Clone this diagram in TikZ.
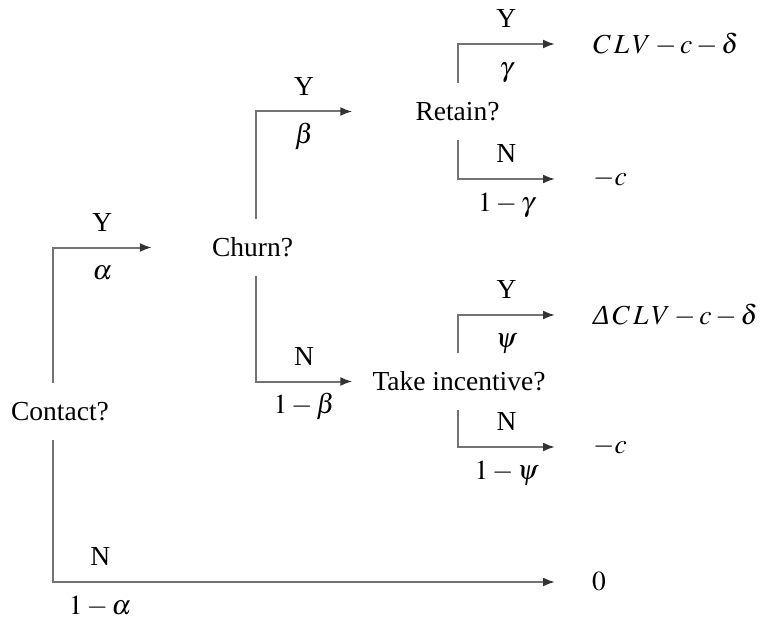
\documentclass[tikz,border=0pt]{standalone}
\usepackage{mathptmx}
\usepackage[no-math]{fontspec}
\setmainfont{Liberation Serif}
\usetikzlibrary{arrows.meta}

\tikzset{
    branch/.style={draw=black!55, line width=2pt, -{Latex[length=12pt, width=9pt, color=black!80]}},
    decision/.style={inner xsep=9pt, inner ysep=19pt},
    outcome/.style={anchor=west, inner sep=0pt},
    ylabel/.style={above=12pt},
    plabel/.style={below, text height=28pt}
}

\begin{document}
\begin{tikzpicture}[x=1pt, y=-1pt, font=\fontsize{27.5}{33}\selectfont]
    \useasboundingbox (0,0) rectangle (766,623);

    % Decision nodes
    \node [decision] (contact) at (60, 411.5) {Contact?};
    \node [decision] (churn) at (252.5, 247.5) {Churn?};
    \node [decision] (retain) at (457.5, 111.5) {Retain?};
    \node [decision] (take) at (459, 381.5) {Take incentive?};

    % Outcomes
    \node [outcome] (clv) at (593, 44) {$C\,L\,V - c - \delta$};
    \node [outcome] (lossA) at (593, 179) {$-c$};
    \node [outcome] (dclv) at (593, 315) {$\textit{Δ}\,C\,L\,V - c - \delta$};
    \node [outcome] (lossB) at (593, 447) {$-c$};
    \node [outcome] (zero) at (592, 582) {$0$};

    % Arrow ends
    \coordinate (toChurn) at ([xshift=-51pt]churn.west);
    \coordinate (toRetain) at ([xshift=-54pt]retain.west);
    \coordinate (toTake) at ([xshift=-11pt]take.west);
    \coordinate (toClv) at ([xshift=-38pt]clv.west);
    \coordinate (toLossA) at ([xshift=-38pt]lossA.west);
    \coordinate (toDclv) at ([xshift=-38pt]dclv.west);
    \coordinate (toLossB) at ([xshift=-38pt]lossB.west);
    \coordinate (toZero) at ([xshift=-37pt]zero.west);

    % Contact branches
    \draw [branch] ([xshift=-7pt]contact.north) |- (toChurn)
        node[pos=0.75, ylabel] {Y} node[pos=0.75, plabel] {$\alpha$};
    \draw [branch] ([xshift=-7pt]contact.south) |- (toZero)
        node[pos=0.547, ylabel] {N} node[pos=0.547, plabel] {$1-\alpha$};

    % Churn branches
    \draw [branch] ([xshift=3.5pt]churn.north) |- (toRetain)
        node[pos=0.75, ylabel] {Y} node[pos=0.75, plabel] {$\beta$};
    \draw [branch] ([xshift=3.5pt]churn.south) |- (toTake)
        node[pos=0.75, ylabel] {N} node[pos=0.75, plabel] {$1-\beta$};

    % Retain branches
    \draw [branch] (retain.north) |- (toClv)
        node[pos=0.75, ylabel] {Y} node[pos=0.75, plabel] {$\gamma$};
    \draw [branch] (retain.south) |- (toLossA)
        node[pos=0.75, ylabel] {N} node[pos=0.75, plabel] {$1-\gamma$};

    % Take incentive branches
    \draw [branch] ([xshift=-1pt]take.north) |- (toDclv)
        node[pos=0.75, ylabel] {Y} node[pos=0.75, plabel] {$\psi$};
    \draw [branch] ([xshift=-1pt]take.south) |- (toLossB)
        node[pos=0.75, ylabel] {N} node[pos=0.75, plabel] {$1-\psi$};
\end{tikzpicture}
\end{document}
